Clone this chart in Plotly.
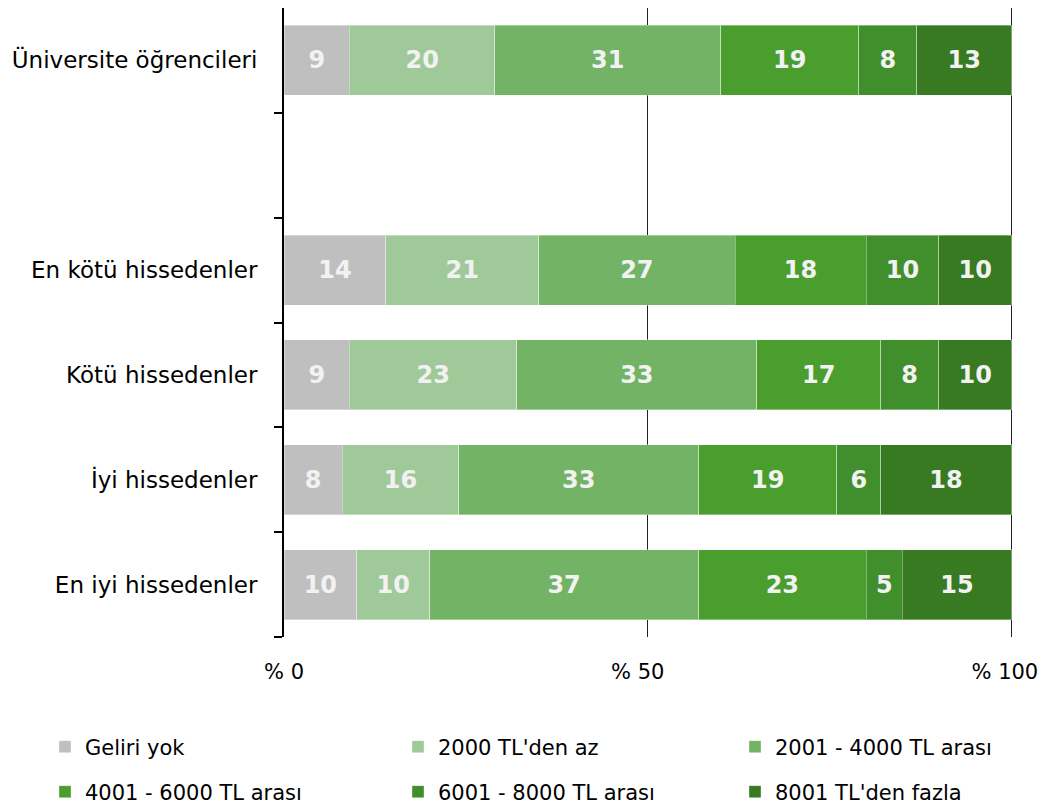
import plotly.graph_objects as go

# categories, top to bottom as drawn (blank row is the gap)
categories = ["Üniversite öğrencileri", " ", "En kötü hissedenler",
              "Kötü hissedenler", "İyi hissedenler", "En iyi hissedenler"]

series_names = ["Geliri yok", "2000 TL'den az", "2001 - 4000 TL arası",
                "4001 - 6000 TL arası", "6001 - 8000 TL arası", "8001 TL'den fazla"]

# values per series, in the order of `rows`
rows = ["Üniversite öğrencileri", "En kötü hissedenler", "Kötü hissedenler",
        "İyi hissedenler", "En iyi hissedenler"]
geliri_yok = [9, 14, 9, 8, 10]
az_2000 = [20, 21, 23, 16, 10]
arasi_2001_4000 = [31, 27, 33, 33, 37]
arasi_4001_6000 = [19, 18, 17, 19, 23]
arasi_6001_8000 = [8, 10, 8, 6, 5]
fazla_8001 = [13, 10, 10, 18, 15]

series_values = [geliri_yok, az_2000, arasi_2001_4000,
                 arasi_4001_6000, arasi_6001_8000, fazla_8001]

colors = ["#bfbfbf", "#a0c99a", "#72b365", "#4a9e2d", "#418f2c", "#377a21"]

# x tick labels; trailing spaces nudge them left like the original
x_tickvals = [0, 50, 100]
x_ticktext = ["% 0", "% 50\u00a0\u00a0\u00a0", "% 100\u00a0\u00a0"]

FONT = "DejaVu Sans"
OFF = 8          # page body margin
W, H = 1045, 799  # figure size so it fits inside the 1053x807 window

fig = go.Figure()

# one small legend per series so the 3x2 grid sits where the original has it
legend_cols = [45, 398, 735]    # page x of each legend column
legend_rows = [747, 792]        # page y of each legend row

for i, (name, vals) in enumerate(zip(series_names, series_values)):
    fig.add_trace(go.Bar(
        y=rows,
        x=vals,
        orientation='h',
        name=name,
        legend='legend' if i == 0 else f'legend{i + 1}',
        marker=dict(color=colors[i], line=dict(color='rgba(255,255,255,0.35)', width=1)),
        text=[str(v) for v in vals],
        textposition='inside',
        insidetextanchor='middle',
        textangle=0,
        textfont=dict(family=FONT, size=24, color='#f2f2f2', weight='bold'),
        hoverinfo='skip',
    ))

legends = {}
for i in range(len(series_names)):
    key = 'legend' if i == 0 else f'legend{i + 1}'
    legends[key] = dict(
        orientation='h',
        xref='container', yref='container',
        xanchor='left', yanchor='middle',
        x=(legend_cols[i % 3] - OFF) / W,
        y=1 - (legend_rows[i // 3] - OFF) / H,
        font=dict(family=FONT, size=21, color='black'),
        bgcolor='rgba(0,0,0,0)',
    )

fig.update_layout(
    barmode='stack',
    bargap=0.333,
    width=W,
    height=H,
    margin=dict(l=284 - OFF, r=40, t=0, b=H + OFF - 637, autoexpand=False),
    paper_bgcolor='white',
    plot_bgcolor='rgba(0,0,0,0)',
    font=dict(family=FONT, size=21, color='black'),
    showlegend=True,
    **legends,
    xaxis=dict(
        range=[0, 100.2],
        tickvals=x_tickvals,
        ticktext=x_ticktext,
        showgrid=True,
        gridcolor='#222222',
        gridwidth=1,
        zeroline=False,
        showline=False,
        ticks='',
        automargin=False,
        ticklabelstandoff=20,
        ticklabeloverflow='allow',
        tickfont=dict(family=FONT, size=21, color='black'),
        fixedrange=True,
    ),
    yaxis=dict(
        type='category',
        categoryorder='array',
        categoryarray=categories[::-1],
        range=[-0.5, 5.5],
        tickmode='array',
        tickvals=categories,
        ticktext=categories,
        tickson='boundaries',
        ticks='outside',
        ticklen=8,
        tickwidth=2,
        tickcolor='black',
        showline=True,
        linecolor='black',
        linewidth=2,
        showgrid=False,
        automargin=False,
        ticklabelstandoff=20,
        tickfont=dict(family=FONT, size=23, color='black'),
        fixedrange=True,
    ),
)

fig.write_html("out.html")
